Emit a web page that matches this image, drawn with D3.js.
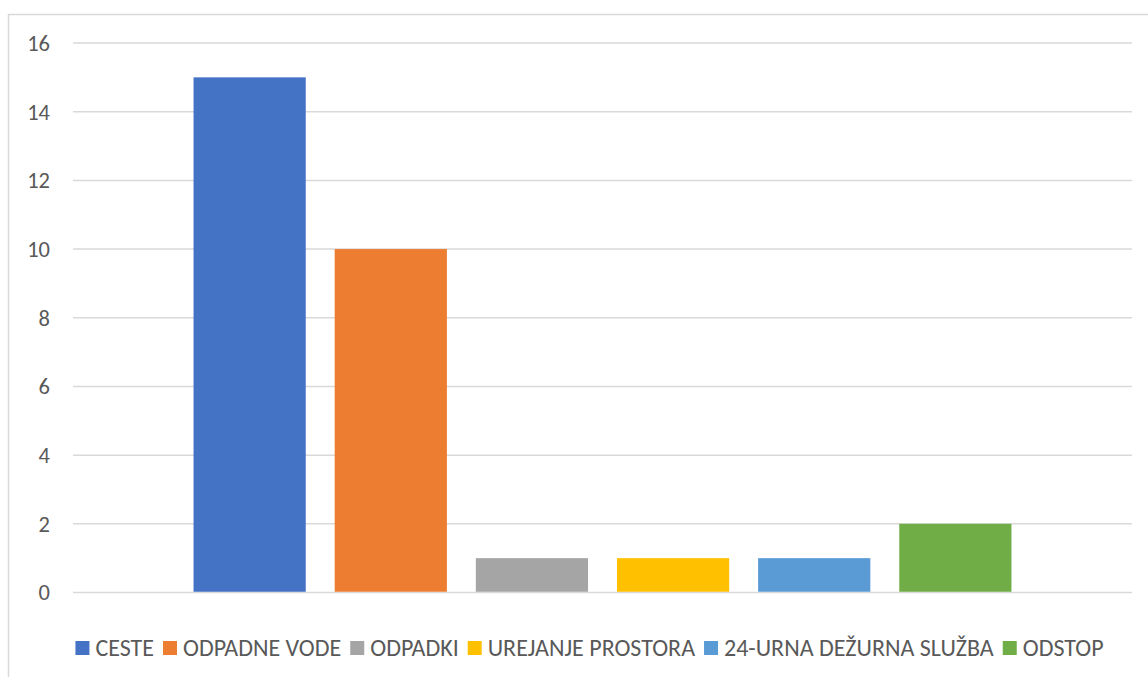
<!DOCTYPE html>
<html>
<head>
<meta charset="utf-8">
<script src="https://cdn.jsdelivr.net/npm/d3@7"></script>
<style>
  body { margin: 0; background: #fff; }
  text { font-family: Calibri, Carlito, "Liberation Sans", Arial, sans-serif; fill: #595959; }
</style>
</head>
<body>
<svg id="chart" width="1148" height="677"></svg>
<script>
// data
var series = ["CESTE", "ODPADNE VODE", "ODPADKI", "UREJANJE PROSTORA", "24-URNA DEŽURNA SLUŽBA", "ODSTOP"];
var values = [15, 10, 1, 1, 1, 2];
var colors = ["#4472C4", "#ED7D31", "#A5A5A5", "#FFC000", "#5B9BD5", "#70AD47"];
var yTicks = [0, 2, 4, 6, 8, 10, 12, 14, 16];

var svg = d3.select("#chart");

// chart border
svg.append("rect")
	.attr("x", 8.5).attr("y", 14.5)
	.attr("width", 1200).attr("height", 700)
	.attr("fill", "none").attr("stroke", "#D9D9D9").attr("stroke-width", 1.5);

var plotL = 73, plotR = 1132, plotT = 43, plotB = 592.5;

var y = d3.scaleLinear().domain([0, 16]).range([plotB, plotT]);
var x = d3.scaleBand().domain(series).range([plotL, plotR])
	.paddingInner(0.205).paddingOuter(0.854);

// gridlines
svg.append("g").selectAll("line").data(yTicks).enter().append("line")
	.attr("x1", plotL).attr("x2", plotR)
	.attr("y1", function (d) { return y(d); })
	.attr("y2", function (d) { return y(d); })
	.attr("stroke", "#D9D9D9").attr("stroke-width", 1.5);

// y labels
svg.append("g").selectAll("text").data(yTicks).enter().append("text")
	.attr("x", 50)
	.attr("y", function (d) { return y(d); })
	.attr("dy", "0.35em")
	.attr("text-anchor", "end")
	.style("font-size", "22.5px")
	.text(function (d) { return d; });

// bars
svg.append("g").selectAll("rect").data(values).enter().append("rect")
	.attr("x", function (d, i) { return x(series[i]); })
	.attr("width", x.bandwidth())
	.attr("y", function (d) { return y(d); })
	.attr("height", function (d) { return y(0) - y(d) - 0.75; })
	.attr("fill", function (d, i) { return colors[i]; });

// legend
var legend = svg.append("g");
var items = legend.selectAll("g").data(series).enter().append("g");
items.append("rect")
	.attr("width", 14).attr("height", 14)
	.attr("y", 641)
	.attr("fill", function (d, i) { return colors[i]; });
items.append("text")
	.attr("y", 648)
	.attr("dy", "0.35em")
	.style("font-size", "24px")
	.text(function (d) { return d; });

var pos = 0;
items.each(function () {
	var g = d3.select(this);
	var w = g.select("text").node().getComputedTextLength();
	g.select("rect").attr("x", pos);
	g.select("text").attr("x", pos + 20);
	pos += 20 + w + 9;
});
var total = pos - 9;
legend.attr("transform", "translate(" + (589.5 - total / 2) + ",0)");
</script>
</body>
</html>
